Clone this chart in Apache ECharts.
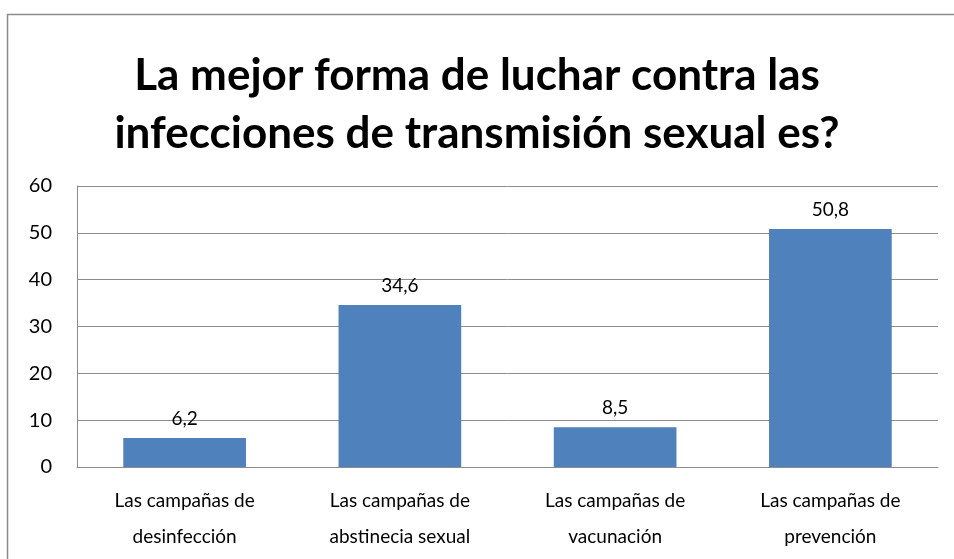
<!DOCTYPE html>
<html>
<head>
<meta charset="utf-8">
<script src="https://cdn.jsdelivr.net/npm/echarts@6/dist/echarts.min.js"></script>
<style>
  html, body { margin: 0; padding: 0; background: #fff; }
  #chart { width: 954px; height: 559px; }
</style>
</head>
<body>
<div id="chart"></div>
<script>
var categories = [
  "Las campañas de\ndesinfección",
  "Las campañas de\nabstinecia sexual",
  "Las campañas de\nvacunación",
  "Las campañas de\nprevención"
];
var values = [6.2, 34.6, 8.5, 50.8];
var yTicks = { min: 0, max: 60, interval: 10 };

var font = "Lato, 'Open Sans', sans-serif";
var myChart = echarts.init(document.getElementById("chart"));

myChart.setOption({
  animation: false,
  title: {
    text: "La mejor forma de luchar contra las\ninfecciones de transmisión sexual es?",
    left: "center",
    top: 42,
    textStyle: {
      fontFamily: font,
      fontWeight: "bold",
      fontSize: 44,
      lineHeight: 58,
      color: "#000"
    }
  },
  graphic: [{
    type: "rect",
    shape: { x: 7.5, y: 14.5, width: 960, height: 560 },
    style: { fill: null, stroke: "#8c8c8c", lineWidth: 1.5 },
    silent: true
  }],
  grid: { left: 77, right: 16, top: 186, bottom: 92 },
  xAxis: {
    type: "category",
    data: categories,
    axisTick: { show: false },
    axisLine: { lineStyle: { color: "#8c8c8c" } },
    axisLabel: {
      fontFamily: font,
      fontSize: 19,
      lineHeight: 36,
      color: "#000",
      margin: 16,
      interval: 0
    },
    splitLine: { show: false }
  },
  yAxis: {
    type: "value",
    min: yTicks.min,
    max: yTicks.max,
    interval: yTicks.interval,
    axisLine: { show: true, lineStyle: { color: "#8c8c8c" } },
    axisTick: { show: false },
    axisLabel: { fontFamily: font, fontSize: 20, color: "#000", margin: 25 },
    splitLine: { lineStyle: { color: "#8c8c8c" } }
  },
  series: [{
    type: "bar",
    data: values,
    barWidth: "57%",
    itemStyle: { color: "#4f81bd" },
    label: {
      show: true,
      position: "top",
      distance: 10,
      fontFamily: font,
      fontSize: 19,
      color: "#000",
      formatter: function (p) { return String(p.value).replace(".", ","); }
    }
  }]
});
</script>
</body>
</html>
